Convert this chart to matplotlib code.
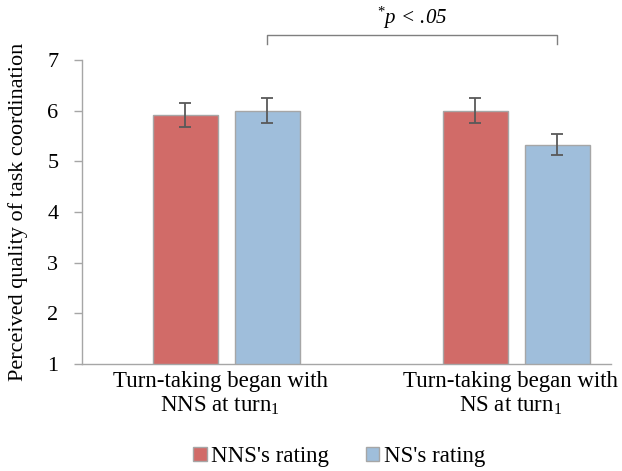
import matplotlib
matplotlib.use("Agg")
import matplotlib.pyplot as plt
import matplotlib.transforms as mtransforms
import numpy as np

plt.rcParams['font.family'] = ['Liberation Serif', 'DejaVu Serif']
plt.rcParams['mathtext.fontset'] = 'custom'
plt.rcParams['mathtext.rm'] = 'Liberation Serif'
plt.rcParams['mathtext.it'] = 'Liberation Serif:italic'

categories = ["Turn-taking began with\nNNS at turn$_1$", "Turn-taking began with\nNS at turn$_1$"]
nns_rating = [5.92, 6.00]
ns_rating = [6.00, 5.33]
nns_err = [0.24, 0.25]
ns_err = [0.25, 0.20]

red = '#D16B68'
blue = '#9FBEDB'
grey = '#A6A6A6'

fig = plt.figure(figsize=(6.22, 4.71), dpi=100)
ax = fig.add_axes([0.1318, 0.2272, 0.8502, 0.6454])

x = np.arange(len(categories))
width = 0.224
off = 0.141

ax.bar(x - off, nns_rating, width, color=red, edgecolor=grey, linewidth=1, label="NNS's rating")
ax.bar(x + off, ns_rating, width, color=blue, edgecolor=grey, linewidth=1, label="NS's rating")
ax.errorbar(x - off, nns_rating, yerr=nns_err, fmt='none', ecolor='#595959', elinewidth=1.3, capsize=4, capthick=1.3)
ax.errorbar(x + off, ns_rating, yerr=ns_err, fmt='none', ecolor='#595959', elinewidth=1.3, capsize=4, capthick=1.3)

ax.set_xlim(-0.498, 1.326)
ax.set_ylim(1, 7)
ax.set_yticks(range(1, 8))
ax.set_xticks(x)
ax.set_xticklabels(categories, fontsize=16.5, linespacing=1.15)
ax.tick_params(axis='x', length=0, pad=5)
# labels sit a little left of the group centres, like the original
shift = mtransforms.ScaledTranslation(-6 / 100, 0, fig.dpi_scale_trans)
for lab in ax.get_xticklabels():
    lab.set_transform(lab.get_transform() + shift)
ax.tick_params(axis='y', labelsize=16, color=grey, length=6, width=1, pad=11)
for s in ['top', 'right']:
    ax.spines[s].set_visible(False)
for s in ['left', 'bottom']:
    ax.spines[s].set_color(grey)
    ax.spines[s].set_linewidth(1)

ax.set_ylabel("Perceived quality of task coordination", fontsize=16, labelpad=14)

# significance bracket between the two NS bars
bx = [x[0] + off, x[1] + off]
ax.plot([bx[0], bx[0], bx[1], bx[1]], [7.32, 7.49, 7.49, 7.32], color='#7F7F7F', linewidth=1, clip_on=False)
ax.text((bx[0] + bx[1]) / 2, 7.58, r"$^{*}$p < .05", fontsize=15, style='italic', ha='center', va='bottom', clip_on=False)

fig.legend(loc='lower center', bbox_to_anchor=(0.545, -0.035), ncol=2, frameon=False, fontsize=16.5,
           handlelength=0.6, handleheight=0.6, handletextpad=0.2, columnspacing=1.6)

fig.savefig('out.png', dpi=100)
